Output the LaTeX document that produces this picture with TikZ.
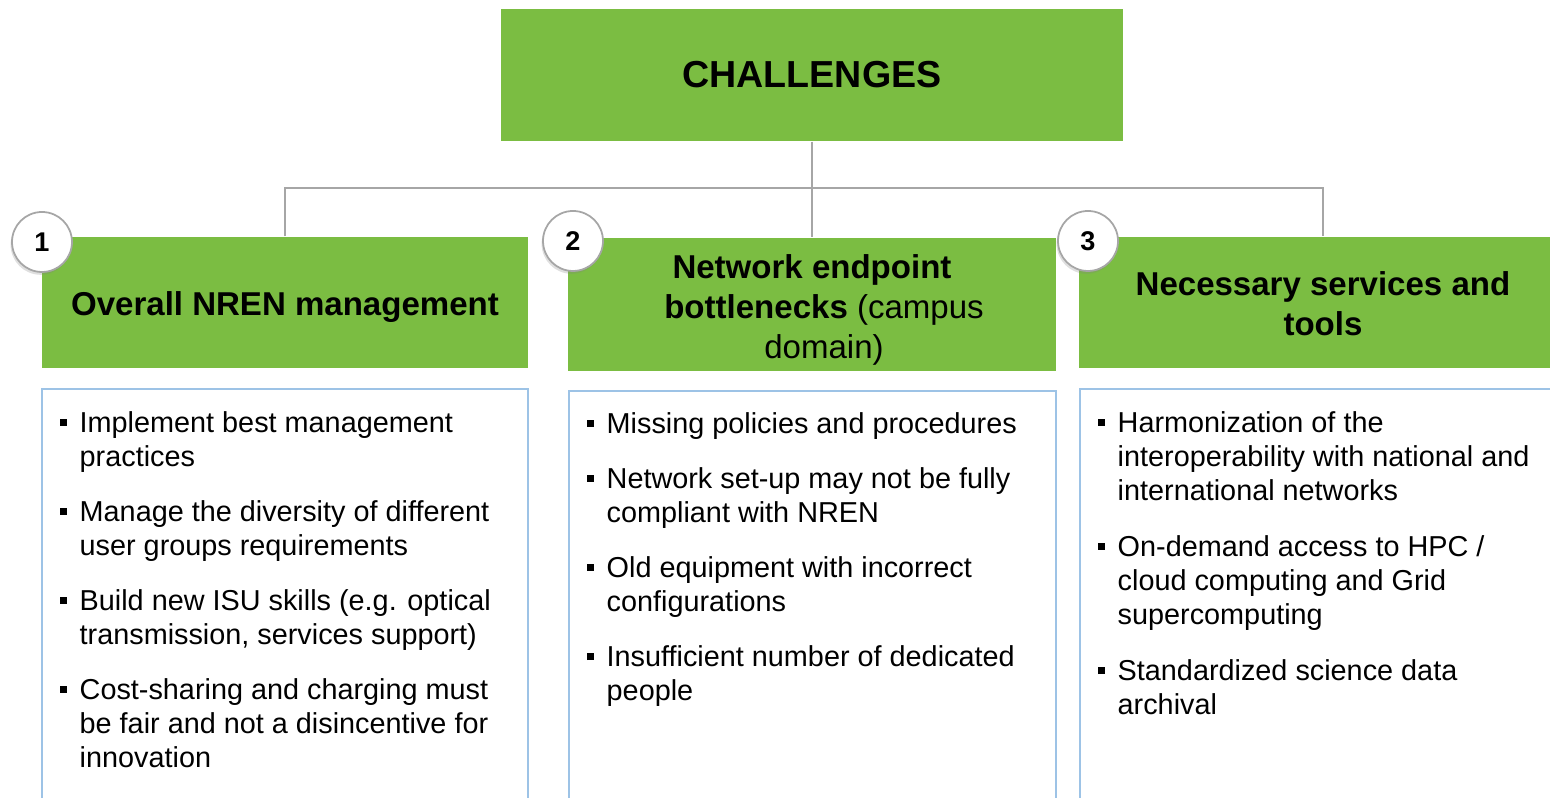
\documentclass[tikz,border=0pt]{standalone}
\usepackage{fontspec}
\setmainfont{Liberation Sans}
\usetikzlibrary{shadows}
\definecolor{chgreen}{RGB}{123,189,66}
\definecolor{linkgray}{RGB}{166,166,166}
\definecolor{panelblue}{RGB}{157,195,230}
\newcommand{\sqbullet}{\makebox[0.2cm][l]{\rule[1.9pt]{2pt}{2pt}}}
\begin{document}
\begin{tikzpicture}[
  greenbox/.style={fill=chgreen, inner sep=0pt},
  headtext/.style={inner sep=0pt, align=center, font=\bfseries\fontsize{9.4}{11.4}\selectfont},
  link/.style={draw=linkgray, line width=0.5pt},
  numdot/.style={circle, draw=linkgray, fill=white, line width=0.5pt, minimum size=0.6cm, inner sep=0pt,
    font=\bfseries\fontsize{7.7}{9}\selectfont, drop shadow={shadow xshift=-0.4pt, shadow yshift=-0.8pt, opacity=0.25}},
  panel/.style={draw=panelblue, line width=0.5pt, fill=white, inner sep=0pt, anchor=north west, minimum height=4.6cm},
  itemlist/.style={anchor=north west, inner sep=0pt, font=\fontsize{8.2}{9.67}\selectfont}
]
\useasboundingbox (0,0) rectangle (15.5,-7.98);
% top box and links
\node[greenbox, minimum width=6.22cm, minimum height=1.32cm, font=\bfseries\fontsize{10.7}{12}\selectfont] (chal) at (8.12,-0.75) {CHALLENGES};
\coordinate (fork) at (8.12,-1.88);
\node[greenbox, minimum width=4.86cm, minimum height=1.31cm] (h1) at (2.85,-3.025) {};
\node[greenbox, minimum width=4.88cm, minimum height=1.33cm] (h2) at (8.12,-3.045) {};
\node[greenbox, minimum width=4.88cm, minimum height=1.31cm] (h3) at (13.23,-3.025) {};
\node[headtext] (t1) at ([yshift=-0.05cm]h1.center) {Overall NREN management};
\node[headtext] (t2) at ([yshift=-0.055cm]h2.center) {Network endpoint\\\hspace*{0.24cm}bottlenecks \textmd{(campus}\\\hspace*{0.24cm}\textmd{domain)}};
\node[headtext] (t3) at ([yshift=-0.01cm]h3.center) {Necessary services and\\tools};
\draw[link] (chal.south) -- (h2.north);
\draw[link] (h1.north) |- (fork) -| (h3.north);
% numbers
\node[numdot] (c1) at (0.42,-2.42) {1};
\node[numdot] (c2) at (5.73,-2.41) {2};
\node[numdot] (c3) at (10.88,-2.41) {3};
% panels
\node[panel, minimum width=4.86cm] (p1) at (0.41,-3.88) {};
\node[panel, minimum width=4.87cm] (p2) at (5.68,-3.90) {};
\node[panel, minimum width=4.88cm] (p3) at (10.79,-3.88) {};
\node[itemlist] (l1) at (0.59,-4.08) {\begin{tabular}{@{}l@{}l@{}}
\sqbullet & Implement best management\\
 & practices\\[6pt]
\sqbullet & Manage the diversity of different\\
 & user groups requirements\\[6pt]
\sqbullet & Build new ISU skills (e.g. optical\\
 & transmission, services support)\\[6pt]
\sqbullet & Cost-sharing and charging must\\
 & be fair and not a disincentive for\\
 & innovation
\end{tabular}};
\node[itemlist] (l2) at (5.86,-4.09) {\begin{tabular}{@{}l@{}l@{}}
\sqbullet & Missing policies and procedures\\[6pt]
\sqbullet & Network set-up may not be fully\\
 & compliant with NREN\\[6pt]
\sqbullet & Old equipment with incorrect\\
 & configurations\\[6pt]
\sqbullet & Insufficient number of dedicated\\
 & people
\end{tabular}};
\node[itemlist] (l3) at (10.97,-4.08) {\begin{tabular}{@{}l@{}l@{}}
\sqbullet & Harmonization of the\\
 & interoperability with national and\\
 & international networks\\[6.3pt]
\sqbullet & On-demand access to HPC /\\
 & cloud computing and Grid\\
 & supercomputing\\[6.3pt]
\sqbullet & Standardized science data\\
 & archival
\end{tabular}};
\end{tikzpicture}
\end{document}
